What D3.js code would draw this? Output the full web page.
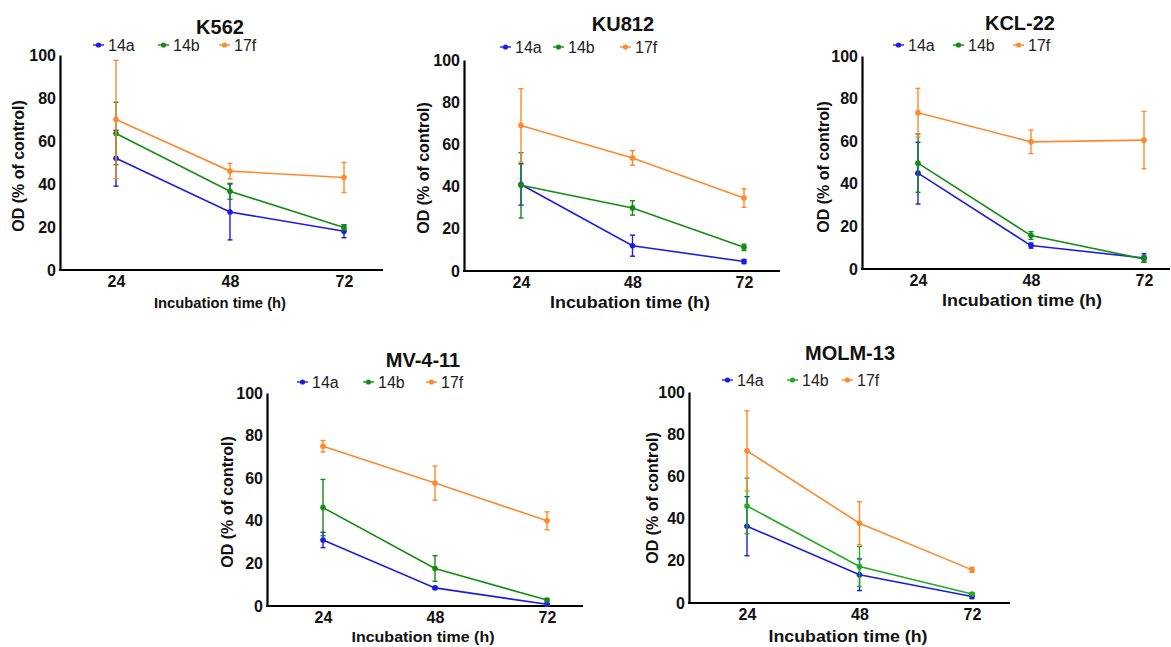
<!DOCTYPE html>
<html>
<head>
<meta charset="utf-8">
<script src="https://cdn.jsdelivr.net/npm/d3@7"></script>
<style>
  body { margin: 0; background: #fff; }
  text { font-family: Arial, "Liberation Sans", Helvetica, sans-serif; }
</style>
</head>
<body>
<div id="chart_area"></div>
<script>
// data
var hours = [24, 48, 72];
var seriesNames = ["14a", "14b", "17f"];
var cellLines = ["K562", "KU812", "KCL-22", "MV-4-11", "MOLM-13"];
var yTicks = [0, 20, 40, 60, 80, 100];

// one row per cell line, one value per time point
var mean14a = [[52, 27, 18], [41, 12, 4.5], [45, 11, 5.2], [31, 8.5, 0.8], [36.4, 13.4, 3.1]];
var err14a  = [[13, 13, 3], [9.8, 5, 1], [14.5, 1.2, 2], [3.6, 0.5, 0.5], [14, 7.5, 1]];
var mean14b = [[63.5, 36.6, 19.8], [40.6, 29.9, 11.2], [49.7, 15.7, 4.7], [46.2, 17.6, 2.8], [46, 17.3, 4.3]];
var err14b  = [[14.5, 3.7, 1.2], [15.5, 3.4, 1.5], [13.7, 1.8, 1.5], [13.2, 6, 0.7], [13.2, 9.5, 0.6]];
var mean17f = [[70, 46, 43], [69, 53.6, 34.6], [73.4, 59.7, 60.5], [75, 57.7, 40], [72.1, 37.8, 15.7]];
var err17f  = [[27.5, 3.6, 7], [17.4, 3.5, 4.4], [11.4, 5.5, 13.5], [2.7, 8, 4.2], [19, 10.2, 1.2]];

var means = [mean14a, mean14b, mean17f];
var errs = [err14a, err14b, err17f];

// panel placement (pixels)
var panels = [
  {left: 60,  right: 383,  y0: 270, y100: 55,  x24: 116, x72: 344, tx: 220,  ty: 27,  ly: 45,  lx: [93, 158, 219],   xt: [220, 303, 132],  yt: [18, 166],  green: "#148c14"},
  {left: 464, right: 780,  y0: 271, y100: 60,  x24: 521, x72: 744, tx: 623,  ty: 24,  ly: 47,  lx: [500, 553, 620],  xt: [630, 302, 160],  yt: [423, 168], green: "#148c14"},
  {left: 862, right: 1170, y0: 269, y100: 56,  x24: 918, x72: 1144, tx: 1020, ty: 23, ly: 45,  lx: [893, 953, 1013], xt: [1022, 300, 160], yt: [823, 167], green: "#148c14"},
  {left: 267, right: 583,  y0: 606, y100: 393, x24: 323, x72: 547, tx: 423,  ty: 360, ly: 382, lx: [297, 363, 426],  xt: [423, 637, 143],  yt: [227, 502], green: "#148c14"},
  {left: 689, right: 1010, y0: 603, y100: 392, x24: 747, x72: 972, tx: 850,  ty: 353, ly: 380, lx: [722, 787, 842],  xt: [848, 636, 159],  yt: [652, 498], green: "#22ac22"}
];

var blue = "#1c1ce0";
var orange = "#ff8a2e";

var svg = d3.select("#chart_area").append("svg")
    .attr("width", 1171)
    .attr("height", 647);

panels.forEach(function(p, i) {
  var g = svg.append("g");
  var colors = [blue, p.green, orange];

  var xScale = d3.scaleLinear().domain([24, 72]).range([p.x24, p.x72]);
  var yScale = d3.scaleLinear().domain([0, 100]).range([p.y0, p.y100]);

  // y axis
  var yAxis = d3.axisLeft(yScale).tickValues(yTicks).tickSize(0).tickSizeOuter(0).tickPadding(4);
  var ya = g.append("g")
      .attr("transform", "translate(" + p.left + ",0)")
      .call(yAxis);
  ya.select(".domain").attr("stroke", "#000").attr("stroke-width", 2.2);
  ya.selectAll("text").attr("font-size", 16).attr("font-weight", "bold").attr("fill", "#111");

  // x axis
  var xAxis = d3.axisBottom(xScale).tickValues(hours).tickSize(0).tickPadding(6);
  var xa = g.append("g")
      .attr("transform", "translate(0," + p.y0 + ")")
      .call(xAxis);
  xa.select(".domain").remove();
  xa.selectAll("text").attr("font-size", 16).attr("font-weight", "bold").attr("fill", "#111");
  g.append("line")
      .attr("x1", p.left - 1).attr("x2", p.right)
      .attr("y1", p.y0).attr("y2", p.y0)
      .attr("stroke", "#000").attr("stroke-width", 2.2);

  // titles
  g.append("text")
      .attr("x", p.tx).attr("y", p.ty)
      .attr("text-anchor", "middle").attr("dominant-baseline", "central")
      .attr("font-size", 20).attr("font-weight", "bold").attr("fill", "#111")
      .text(cellLines[i]);

  g.append("text")
      .attr("x", p.xt[0]).attr("y", p.xt[1])
      .attr("text-anchor", "middle").attr("dominant-baseline", "central")
      .attr("font-size", p.xt[2] / 9.6).attr("font-weight", "bold").attr("fill", "#111")
      .attr("textLength", p.xt[2]).attr("lengthAdjust", "spacingAndGlyphs")
      .text("Incubation time (h)");

  g.append("text")
      .attr("transform", "translate(" + p.yt[0] + "," + p.yt[1] + ") rotate(-90)")
      .attr("text-anchor", "middle").attr("dominant-baseline", "central")
      .attr("font-size", 16).attr("font-weight", "bold").attr("fill", "#111")
      .text("OD (% of control)");

  // series
  seriesNames.forEach(function(name, s) {
    var pts = hours.map(function(h, k) {
      return {h: h, v: means[s][i][k], e: errs[s][i][k]};
    });
    var sg = g.append("g");
    var line = d3.line()
        .x(function(d) { return xScale(d.h); })
        .y(function(d) { return yScale(d.v); });
    sg.append("path")
        .datum(pts)
        .attr("d", line)
        .attr("fill", "none")
        .attr("stroke", colors[s])
        .attr("stroke-width", 1.6);

    var eb = sg.selectAll(".err").data(pts).enter().append("g");
    eb.append("line")
        .attr("x1", function(d) { return xScale(d.h); })
        .attr("x2", function(d) { return xScale(d.h); })
        .attr("y1", function(d) { return yScale(d.v + d.e); })
        .attr("y2", function(d) { return yScale(Math.max(0, d.v - d.e)); })
        .attr("stroke", colors[s]).attr("stroke-width", 1.4);
    [1, -1].forEach(function(sign) {
      eb.append("line")
          .attr("x1", function(d) { return xScale(d.h) - 2.5; })
          .attr("x2", function(d) { return xScale(d.h) + 2.5; })
          .attr("y1", function(d) { return yScale(Math.max(0, d.v + sign * d.e)); })
          .attr("y2", function(d) { return yScale(Math.max(0, d.v + sign * d.e)); })
          .attr("stroke", colors[s]).attr("stroke-width", 1.4);
    });
    sg.selectAll("circle").data(pts).enter().append("circle")
        .attr("cx", function(d) { return xScale(d.h); })
        .attr("cy", function(d) { return yScale(d.v); })
        .attr("r", 2.8)
        .attr("fill", colors[s]);

    // legend
    var lx = p.lx[s];
    g.append("line")
        .attr("x1", lx).attr("x2", lx + 11)
        .attr("y1", p.ly).attr("y2", p.ly)
        .attr("stroke", colors[s]).attr("stroke-width", 1.4);
    g.append("circle")
        .attr("cx", lx + 5.5).attr("cy", p.ly).attr("r", 2.6)
        .attr("fill", colors[s]);
    g.append("text")
        .attr("x", lx + 15).attr("y", p.ly)
        .attr("dominant-baseline", "central")
        .attr("font-size", 16).attr("fill", "#222")
        .text(name);
  });
});
</script>
</body>
</html>
